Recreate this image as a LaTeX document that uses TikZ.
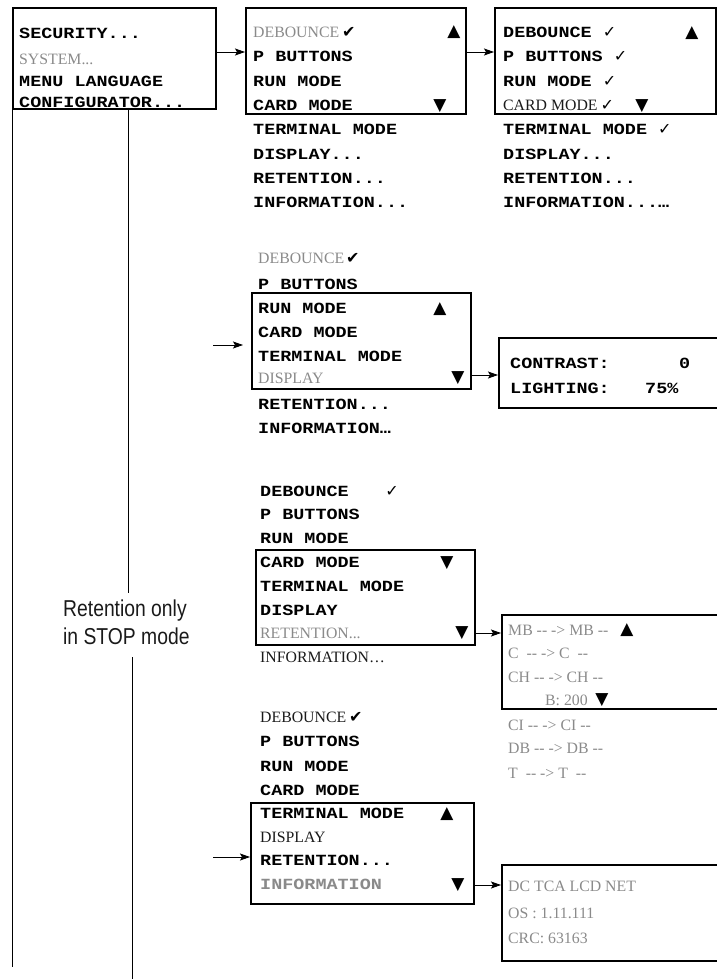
\documentclass[tikz,border=0pt]{standalone}
\usepackage{fontspec}
\usetikzlibrary{arrows.meta}
\newfontfamily\monof[FakeStretch=1.19]{Liberation Mono}
\newfontfamily\serff{Liberation Serif}
\newfontfamily\symf{DejaVu Sans}
\newfontfamily\condf[FakeStretch=0.84]{Liberation Sans}
\definecolor{gr}{HTML}{8A8A8A}
\definecolor{dk}{HTML}{1A1A1A}
\newcommand\hh{\mbox{-}\mbox{-}}
\newcommand\ck{{\color{black}\symf\fontsize{16}{16}\selectfont ✓}}
\newcommand\ckb{{\color{black}\symf\fontsize{16}{16}\selectfont ✔}}
\tikzset{
  mono/.style={font=\monof\bfseries\fontsize{15.5}{18}\selectfont, inner sep=0pt, anchor=base west},
  gmono/.style={mono, text=gr},
  ser/.style={font=\serff\fontsize{15.8}{18}\selectfont, inner sep=0pt, anchor=base west, text=dk},
  gser/.style={ser, text=gr},
  tri/.style={font=\symf\fontsize{17}{17}\selectfont, inner sep=0pt},
  lcd/.style={draw, line width=1.6pt, inner sep=0pt, anchor=north west},
  arr/.style={draw, line width=0.8pt, -{Stealth[length=10pt,width=7pt,inset=2pt]}},
  vline/.style={draw, line width=0.9pt},
}
\begin{document}
\begin{tikzpicture}[x=1pt,y=-1pt]
\useasboundingbox (0,0) rectangle (716,979);
% ---------- boxes
\node[lcd, minimum width=203pt, minimum height=101pt] (b1) at (12,7) {};
\node[lcd, minimum width=220pt, minimum height=106pt] (b2) at (245,7) {};
\node[lcd, minimum width=221pt, minimum height=106pt] (b3) at (494,7) {};
\node[lcd, minimum width=219pt, minimum height=96pt] (b5) at (251,292) {};
\node[lcd, minimum width=231pt, minimum height=70pt] (cb) at (498,337) {};
\node[lcd, minimum width=219pt, minimum height=95pt] (b6) at (255,549) {};
\node[lcd, minimum width=229pt, minimum height=94pt] (mb) at (501,614) {};
\node[lcd, minimum width=223pt, minimum height=101pt] (b7) at (250,802) {};
\node[lcd, minimum width=229pt, minimum height=96pt] (dc) at (501,864) {};
% ---------- box 1
\node[mono] (s1) at (19,39) {SECURITY...};
\node[gser] (s2) at (19,65) {SYSTEM...};
\node[mono] (s3) at (19,86.5) {MENU LANGUAGE};
\node[mono] (s4) at (19,107.5) {CONFIGURATOR...};
% ---------- box 2
\node[gser] (m1) at (253,37.5) {DEBOUNCE\kern3pt\ckb};
\node[mono] (m2) at (253,62) {P BUTTONS};
\node[mono] (m3) at (253,86.5) {RUN MODE};
\node[mono] (m4) at (253,110.5) {CARD MODE};
\node[mono] (m5) at (253,135) {TERMINAL MODE};
\node[mono] (m6) at (253,159) {DISPLAY...};
\node[mono] (m7) at (253,183.5) {RETENTION...};
\node[mono] (m8) at (253,207.5) {INFORMATION...};
\node[tri] (m2u) at (454,32) {▲};
\node[tri] (m2d) at (440,106) {▼};
% ---------- box 3
\node[mono] (n1) at (503,37.5) {DEBOUNCE \ck};
\node[mono] (n2) at (503,62) {P BUTTONS \ck};
\node[mono] (n3) at (503,86.5) {RUN MODE \ck};
\node[ser] (n4) at (503,110.5) {CARD MODE\kern3pt\ck};
\node[mono] (n5) at (503,135) {TERMINAL MODE \ck};
\node[mono] (n6) at (503,159) {DISPLAY...};
\node[mono] (n7) at (503,183.5) {RETENTION...};
\node[mono] (n8) at (503,207.5) {INFORMATION...…};
\node[tri] (n3u) at (692,33) {▲};
\node[tri] (n3d) at (642,106) {▼};
% ---------- section 2
\node[gser] (p1) at (258,263) {DEBOUNCE\kern2pt\ckb};
\node[mono] (p2) at (258,289.5) {P BUTTONS};
\node[mono] (p3) at (258,313.5) {RUN MODE};
\node[mono] (p4) at (258,337.5) {CARD MODE};
\node[mono] (p5) at (258,361.5) {TERMINAL MODE};
\node[gser] (p6) at (258,383) {DISPLAY};
\node[mono] (p7) at (258,409.5) {RETENTION...};
\node[mono] (p8) at (258,433.5) {INFORMATION…};
\node[tri] (p5u) at (440,309) {▲};
\node[tri] (p5d) at (458,378) {▼};
\node[mono] (c1) at (510,368) {CONTRAST:};
\node[mono] (c1v) at (679,368) {0};
\node[mono] (c2) at (510,393) {LIGHTING:};
\node[mono] (c2v) at (645,393) {75\%};
% ---------- section 3
\node[mono] (q1) at (260,496.5) {DEBOUNCE};
\node[inner sep=0pt] (q1c) at (392,491) {\ck};
\node[mono] (q2) at (260,519.5) {P BUTTONS};
\node[mono] (q3) at (260,543.5) {RUN MODE};
\node[mono] (q4) at (260,567.5) {CARD MODE};
\node[mono] (q5) at (260,591.5) {TERMINAL MODE};
\node[mono] (q6) at (260,615.5) {DISPLAY};
\node[gser] (q7) at (260,638) {RETENTION...};
\node[ser] (q8) at (260,662) {INFORMATION…};
\node[tri] (q6a) at (447,563) {▼};
\node[tri] (q6d) at (462,633) {▼};
\node[gser] (r1) at (508,635) {MB \hh{} -> MB \hh};
\node[gser] (r2) at (508,658) {C~ \hh{} -> C~ \hh};
\node[gser] (r3) at (508,682) {CH \hh{} -> CH \hh};
\node[gser] (r4) at (545,705) {B: 200};
\node[gser] (r5) at (508,730) {CI \hh{} -> CI \hh};
\node[gser] (r6) at (508,753) {DB \hh{} -> DB \hh};
\node[gser] (r7) at (508,778) {T~ \hh{} -> T~ \hh};
\node[tri] (ru) at (627,630) {▲};
\node[tri] (rd) at (602,700) {▼};
% ---------- section 4
\node[ser] (u1) at (260,722) {DEBOUNCE\kern3pt\ckb};
\node[mono] (u2) at (260,746.5) {P BUTTONS};
\node[mono] (u3) at (260,771.5) {RUN MODE};
\node[mono] (u4) at (260,795.5) {CARD MODE};
\node[mono] (u5) at (260,818.5) {TERMINAL MODE};
\node[ser] (u6) at (260,842) {DISPLAY};
\node[mono] (u7) at (260,865.5) {RETENTION...};
\node[gmono] (u8) at (260,889.5) {INFORMATION};
\node[tri] (u7u) at (447,814) {▲};
\node[tri] (u7d) at (458,885) {▼};
\node[gser] (w1) at (508,891) {DC TCA LCD NET};
\node[gser] (w2) at (508,918) {OS : 1.11.111};
\node[gser] (w3) at (508,943) {CRC: 63163};
% ---------- label
\node[font=\condf\fontsize{23}{28}\selectfont, align=left, inner sep=0pt, anchor=west, text=dk] (ret) at (63,622) {Retention only\\in STOP mode};
% ---------- connectors
\coordinate (v1e) at (12,967);
\coordinate (v2s) at (128,108);
\coordinate (v2e) at (128,593);
\coordinate (v3s) at (132,657);
\coordinate (v3e) at (132,979);
\draw[vline] (b1.south west) -- (v1e);
\draw[vline] (v2s) -- (v2e);
\draw[vline] (v3s) -- (v3e);
\draw[arr] (b1.east |- 0,52) -- (b2.west |- 0,52);
\draw[arr] (b2.east |- 0,52) -- (b3.west |- 0,52);
\coordinate (i2s) at (213,345);
\coordinate (i2e) at (243,345);
\draw[arr] (i2s) -- (i2e);
\draw[arr] (b5.east |- 0,375) -- (cb.west |- 0,375);
\draw[arr] (b6.east |- 0,633) -- (mb.west |- 0,633);
\coordinate (i4s) at (213,857);
\draw[arr] (i4s) -- (b7.west |- i4s);
\draw[arr] (b7.east |- 0,885) -- (dc.west |- 0,885);
\end{tikzpicture}
\end{document}
